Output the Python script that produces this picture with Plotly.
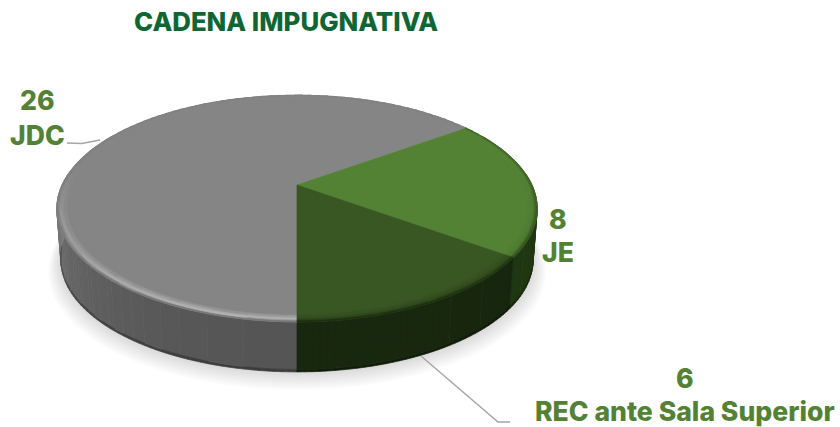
import math
from collections import OrderedDict
import plotly.graph_objects as go

# ---- data ----
categories = ["JDC", "JE", "REC ante Sala Superior"]
values = [26, 8, 6]
title_text = "CADENA IMPUGNATIVA"

# ---- styling / projection ----
START = 180.0
CX = 297.0
TOP = dict(y0=185.0, a=108.6, c=235.0)
BOT = dict(y0=237.0, a=107.0, c=231.0)
B = 0.207
FACE = ["#858585", "#548235", "#385723"]
RIM_EDGE = ["#787878", "#2c4719", "#1c2f10"]
RIM_HI = ["#b4b4b4", "#4a7330", "#30491d"]
SIDE_A = ["#848484", "#223a14", "#16240e"]   # at silhouette
SIDE_B = ["#555555", "#1f3512", "#18270f"]   # at slice front
LABEL = "#548235"
TITLE = "#0f6634"
LEADER = "#a6a6a6"


def proj(r, th, p, dy=0.0, s=1.0):
    t = math.radians(th)
    X, Y = r * math.sin(t), -r * math.cos(t)
    d = 1 - B * Y
    return CX + s * p["c"] * X / d, p["y0"] + dy + s * p["a"] * Y / d


def rgb(h):
    return [int(h[i:i + 2], 16) for i in (1, 3, 5)]


def mix(a, b, t):
    t = max(0.0, min(1.0, t))
    A, C = rgb(a), rgb(b)
    return "#%02x%02x%02x" % tuple(round(A[i] + (C[i] - A[i]) * t) for i in range(3))


total = sum(values)
spans = []
cur = START
for v in values:
    spans.append((cur, cur + v / total * 360))
    cur += v / total * 360


def steps(a, b, d=1.5):
    n = max(1, int(round((b - a) / d)))
    return [a + (b - a) * i / n for i in range(n + 1)]


layers = []


def add_layer(polys):
    tr = []
    for col, pl in polys.items():
        xs, ys = [], []
        for poly in pl:
            xs += [q[0] for q in poly] + [poly[0][0], None]
            ys += [q[1] for q in poly] + [poly[0][1], None]
        tr.append(go.Scatter(x=xs, y=ys, mode="lines", fill="toself", fillcolor=col,
                             line=dict(color=col, width=0.7), hoverinfo="skip", showlegend=False))
    layers.extend(tr)


# soft ground shadow, follows the lower rim
ang = steps(0, 360, 4)
for k in range(9, 0, -1):
    pts = [proj(1.0, a, BOT, dy=k * 1.2, s=1 + k * 0.006) for a in ang]
    layers.append(go.Scatter(x=[q[0] for q in pts], y=[q[1] for q in pts], mode="lines", fill="toself",
                             fillcolor="rgba(0,0,0,0.016)", line=dict(width=0), hoverinfo="skip", showlegend=False))

# side wall
side = OrderedDict()
V = [(0.0, 0.0), (0.95, 0.0), (1.0, 0.3)]
for i, (a, b) in enumerate(spans):
    tt = steps(a, b)
    for t1, t2 in zip(tt, tt[1:]):
        m = (t1 + t2) / 2
        Y = -math.cos(math.radians(m))
        if Y < -0.1:
            continue
        base = mix(SIDE_A[i], SIDE_B[i], max(0, Y) ** 0.6 if i == 0 else Y)
        for (v1, d1), (v2, _) in zip(V, V[1:]):
            col = mix(base, "#000000", 0.3 if v1 > 0 else 0.0)
            p1 = proj(1, t1, TOP); p2 = proj(1, t2, TOP)
            q1 = proj(1, t1, BOT); q2 = proj(1, t2, BOT)
            poly = [
                (p1[0] + (q1[0] - p1[0]) * v1, p1[1] + (q1[1] - p1[1]) * v1),
                (p2[0] + (q2[0] - p2[0]) * v1, p2[1] + (q2[1] - p2[1]) * v1),
                (p2[0] + (q2[0] - p2[0]) * v2, p2[1] + (q2[1] - p2[1]) * v2),
                (p1[0] + (q1[0] - p1[0]) * v2, p1[1] + (q1[1] - p1[1]) * v2),
            ]
            side.setdefault(col, []).append(poly)
add_layer(side)

# top faces
face = OrderedDict()
for i, (a, b) in enumerate(spans):
    poly = [(CX, TOP["y0"])] + [proj(1, t, TOP) for t in steps(a, b, 1.5)]
    face.setdefault(FACE[i], []).append(poly)
add_layer(face)

# bevel around the top rim
RINGS = [0.95, 0.96, 0.97, 0.98, 0.988, 0.994, 1.0]
rim = OrderedDict()
for i, (a, b) in enumerate(spans):
    tt = steps(a, b, 2.5)
    for t1, t2 in zip(tt, tt[1:]):
        m = (t1 + t2) / 2
        Y = -math.cos(math.radians(m))
        front = max(0.0, (Y + 0.15) / 1.15)
        hi = mix(FACE[i], RIM_HI[i], front ** 0.9)
        edge = mix(FACE[i], RIM_EDGE[i], 0.45 + 0.55 * front)
        for j, (r1, r2) in enumerate(zip(RINGS, RINGS[1:])):
            u = j / (len(RINGS) - 2)
            col = mix(FACE[i], hi, u / 0.6) if u < 0.6 else mix(hi, edge, (u - 0.6) / 0.4)
            poly = [proj(r1, t1, TOP), proj(r1, t2, TOP), proj(r2, t2, TOP), proj(r2, t1, TOP)]
            rim.setdefault(col, []).append(poly)
add_layer(rim)

fig = go.Figure(layers)

# leader lines
fig.add_trace(go.Scatter(x=[67, 82, 100], y=[143, 143.5, 140], mode="lines", line=dict(color=LEADER, width=1.4),
                         hoverinfo="skip", showlegend=False))
fig.add_trace(go.Scatter(x=[421, 498, 510], y=[356, 422, 422], mode="lines", line=dict(color=LEADER, width=1.4),
                         hoverinfo="skip", showlegend=False))

FONT = "Inter"
label_pos = [(37, 100, 135), (558, 219, 252), (685, 378, 411)]


def note(text, x, y, color, size):
    fig.add_annotation(x=x, y=y, xref="x", yref="y", text=text, showarrow=False, xanchor="center", yanchor="middle",
                       font=dict(family=FONT, size=size, color=color, weight=800))


for c, v, (lx, y1, y2) in zip(categories, values, label_pos):
    note(str(v), lx, y1, LABEL, 26.6)
    note(c, lx, y2, LABEL, 26.6)
note(title_text, 286, 21, TITLE, 25.8)

fig.update_layout(width=840, height=427, margin=dict(l=0, r=0, t=0, b=0), paper_bgcolor="white", plot_bgcolor="white",
                  showlegend=False,
                  xaxis=dict(range=[0, 840], visible=False, fixedrange=True),
                  yaxis=dict(range=[427, 0], visible=False, fixedrange=True))
fig.write_html("out.html", config=dict(displayModeBar=False),
               post_script="document.body.style.margin='0';document.body.style.overflow='hidden';")
